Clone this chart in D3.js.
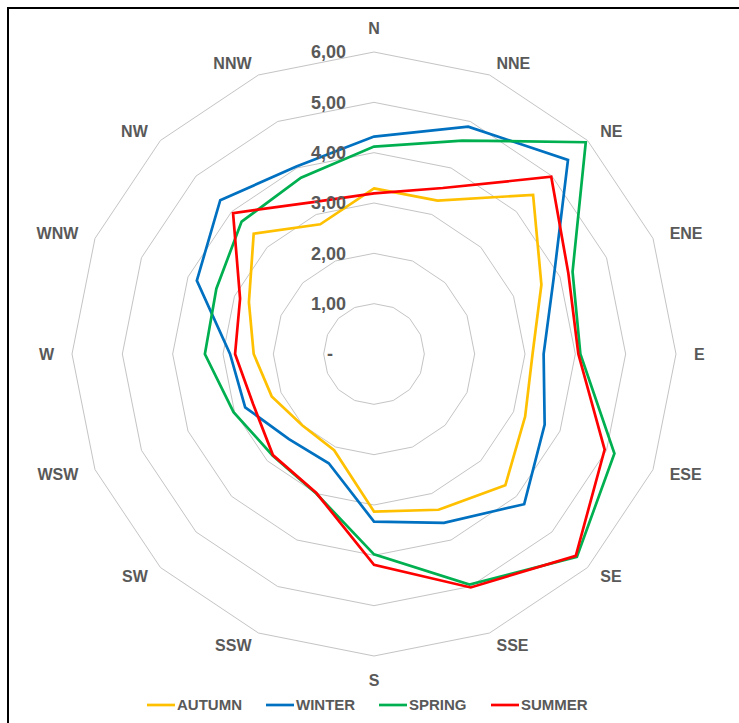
<!DOCTYPE html>
<html>
<head>
<meta charset="utf-8">
<script src="https://cdn.jsdelivr.net/npm/d3@7/dist/d3.min.js"></script>
<style>
  html, body { margin: 0; padding: 0; background: #ffffff; }
  svg { display: block; }
  text { font-family: "Liberation Sans", Arial, sans-serif; font-weight: bold; fill: #595959; }
</style>
</head>
<body>
<svg id="chart" width="739" height="723"></svg>
<script>
// ---- data ----
const directions = ["N","NNE","NE","ENE","E","ESE","SE","SSE","S","SSW","SW","WSW","W","WNW","NW","NNW"];
const seriesNames = ["AUTUMN","WINTER","SPRING","SUMMER"];
const autumn = [3.29,3.30,4.47,3.60,3.15,3.25,3.69,3.35,3.13,2.07,2.01,2.20,2.39,2.69,3.38,2.79];
const winter = [4.32,4.89,5.45,3.86,3.37,3.67,4.22,3.63,3.33,2.35,2.39,2.77,2.86,3.81,4.32,4.03];
const spring = [4.12,4.59,5.95,4.27,4.10,5.17,5.70,4.96,3.98,3.00,2.85,3.02,3.36,3.39,3.72,3.79];
const summer = [3.19,3.57,4.98,4.18,4.06,4.96,5.67,5.02,4.19,2.99,2.84,2.60,2.76,2.88,3.96,3.26];
const tickValues = [0,1,2,3,4,5,6];
const colors = ["#FFC000","#0070C0","#00B050","#FF0000"];

const seriesValues = [autumn, winter, spring, summer];
const series = seriesNames.map((name, i) => ({name, values: seriesValues[i], color: colors[i]}));

// ---- layout ----
const svg = d3.select("#chart");
const cx = 374, cy = 354;
const rScale = d3.scaleLinear().domain([0, 6]).range([0, 302]);
const angle = d3.scalePoint().domain(directions).range([0, 2*Math.PI*(15/16)]);

// frame (left & top visible)
svg.append("rect").attr("x", 8).attr("y", 8).attr("width", 760).attr("height", 760)
  .attr("fill", "none").attr("stroke", "#000").attr("stroke-width", 2);

const g = svg.append("g").attr("transform", `translate(${cx},${cy})`);

const pt = (dir, v) => {
  const a = angle(dir), r = rScale(v);
  return [r*Math.sin(a), -r*Math.cos(a)];
};

// grid rings
const ringLine = d3.line().curve(d3.curveLinearClosed);
tickValues.filter(t => t > 0).forEach(t => {
  g.append("path")
    .attr("d", ringLine(directions.map(d => pt(d, t))))
    .attr("fill", "none").attr("stroke", "#c4c4c4").attr("stroke-width", 1);
});

// series
const sLine = d3.line().curve(d3.curveLinearClosed);
series.forEach(s => {
  g.append("path")
    .attr("d", sLine(directions.map((d, i) => pt(d, s.values[i]))))
    .attr("fill", "none").attr("stroke", s.color).attr("stroke-width", 2.7)
    .attr("stroke-linejoin", "miter");
});

// tick labels
const fmt = v => v === 0 ? "-" : d3.format(".2f")(v).replace(".", ",");
g.selectAll("text.tick").data(tickValues).join("text")
  .attr("class", "tick")
  .attr("x", -28)
  .attr("dx", d => d === 0 ? -13 : 0)
  .attr("y", d => -rScale(d))
  .attr("dy", "0.35em")
  .attr("text-anchor", "end")
  .style("font-size", "18px")
  .text(fmt);

// direction labels (Excel-like placement outside the outer ring)
const labelL = rScale(6) + 18;
const labelLy = rScale(6) + 13;
g.selectAll("text.dir").data(directions).join("text")
  .attr("class", "dir")
  .each(function(d) {
    const a = angle(d), s = Math.sin(a), c = Math.cos(a);
    const el = d3.select(this);
    if (Math.abs(s) < 1e-6) {
      el.attr("x", 0).attr("text-anchor", "middle")
        .attr("y", c > 0 ? -labelL : labelL)
        .attr("dy", c > 0 ? "0em" : "0.72em");
    } else {
      el.attr("x", labelL * s).attr("text-anchor", s > 0 ? "start" : "end")
        .attr("y", -labelLy * c).attr("dy", "0.36em");
    }
  })
  .style("font-size", "16px")
  .text(d => d);

// legend
const legendX = [147, 266, 379, 491];
const lg = svg.append("g").attr("transform", "translate(0,705)");
series.forEach((s, i) => {
  lg.append("line").attr("x1", legendX[i]).attr("x2", legendX[i] + 28)
    .attr("y1", 0).attr("y2", 0).attr("stroke", s.color).attr("stroke-width", 2.7);
  lg.append("text").attr("x", legendX[i] + 30).attr("y", 0).attr("dy", "0.36em")
    .style("font-size", "15px").text(s.name);
});
</script>
</body>
</html>
